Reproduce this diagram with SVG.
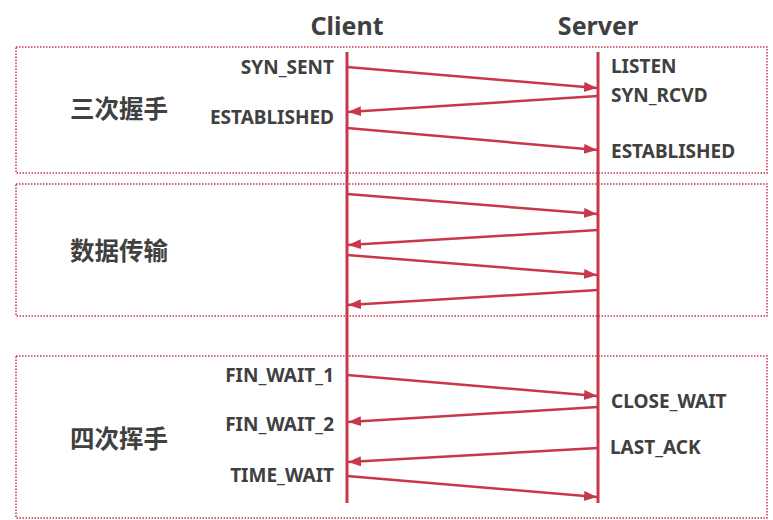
<svg xmlns="http://www.w3.org/2000/svg" width="773" height="520" viewBox="0 0 773 520">
<style>
.box{fill:none;stroke:#c8374a;stroke-width:1.5;stroke-dasharray:1.5 1.5}
.life{stroke:#c8374a;stroke-width:3}
.msg{stroke:#c8374a;stroke-width:2.5;fill:none}
.st{font-family:"Noto Sans","Open Sans",sans-serif;font-weight:bold;font-size:19px;fill:#404040}
.r{text-anchor:end}
.hd{font-family:"Noto Sans","Open Sans",sans-serif;font-weight:bold;font-size:25px;fill:#404040;text-anchor:middle}
.cn{font-family:"Noto Sans CJK SC",sans-serif;font-weight:bold;font-size:24.5px;fill:#404040}
</style>
<defs>
<marker id="ah" markerUnits="userSpaceOnUse" markerWidth="14" markerHeight="12" refX="13" refY="5" orient="auto">
<path d="M0,0 L13,5 L0,10 Z" fill="#c8374a"/>
</marker>
</defs>
<g id="phases">
<rect class="box" x="16" y="47" width="751" height="126"/>
<rect class="box" x="16" y="184" width="751" height="132"/>
<rect class="box" x="16" y="356" width="751" height="162"/>
<text class="cn" x="70" y="118">三次握手</text>
<text class="cn" x="70" y="260">数据传输</text>
<text class="cn" x="70" y="448">四次挥手</text>
</g>
<g id="client">
<text class="hd" x="347" y="35">Client</text>
<line class="life" x1="347" y1="52" x2="347" y2="503"/>
<text class="st r" x="334" y="74">SYN_SENT</text>
<text class="st r" x="334" y="124">ESTABLISHED</text>
<text class="st r" x="334" y="382">FIN_WAIT_1</text>
<text class="st r" x="334" y="431">FIN_WAIT_2</text>
<text class="st r" x="334" y="482">TIME_WAIT</text>
</g>
<g id="server">
<text class="hd" x="598" y="35">Server</text>
<line class="life" x1="598" y1="52" x2="598" y2="503"/>
<text class="st" x="611" y="73">LISTEN</text>
<text class="st" x="611" y="102">SYN_RCVD</text>
<text class="st" x="611" y="158">ESTABLISHED</text>
<text class="st" x="611" y="408">CLOSE_WAIT</text>
<text class="st" x="610" y="454">LAST_ACK</text>
</g>
<g id="connectors">
<line class="msg" marker-end="url(#ah)" x1="347" y1="67" x2="597" y2="88"/>
<line class="msg" marker-end="url(#ah)" x1="598" y1="96" x2="348" y2="112"/>
<line class="msg" marker-end="url(#ah)" x1="347" y1="128" x2="597" y2="150"/>
<line class="msg" marker-end="url(#ah)" x1="347" y1="194" x2="597" y2="214"/>
<line class="msg" marker-end="url(#ah)" x1="598" y1="230" x2="348" y2="245"/>
<line class="msg" marker-end="url(#ah)" x1="347" y1="255" x2="597" y2="275"/>
<line class="msg" marker-end="url(#ah)" x1="598" y1="290" x2="348" y2="305"/>
<line class="msg" marker-end="url(#ah)" x1="347" y1="375" x2="597" y2="396"/>
<line class="msg" marker-end="url(#ah)" x1="598" y1="407" x2="348" y2="422"/>
<line class="msg" marker-end="url(#ah)" x1="598" y1="448" x2="348" y2="462"/>
<line class="msg" marker-end="url(#ah)" x1="347" y1="476" x2="597" y2="497"/>
</g>
</svg>
